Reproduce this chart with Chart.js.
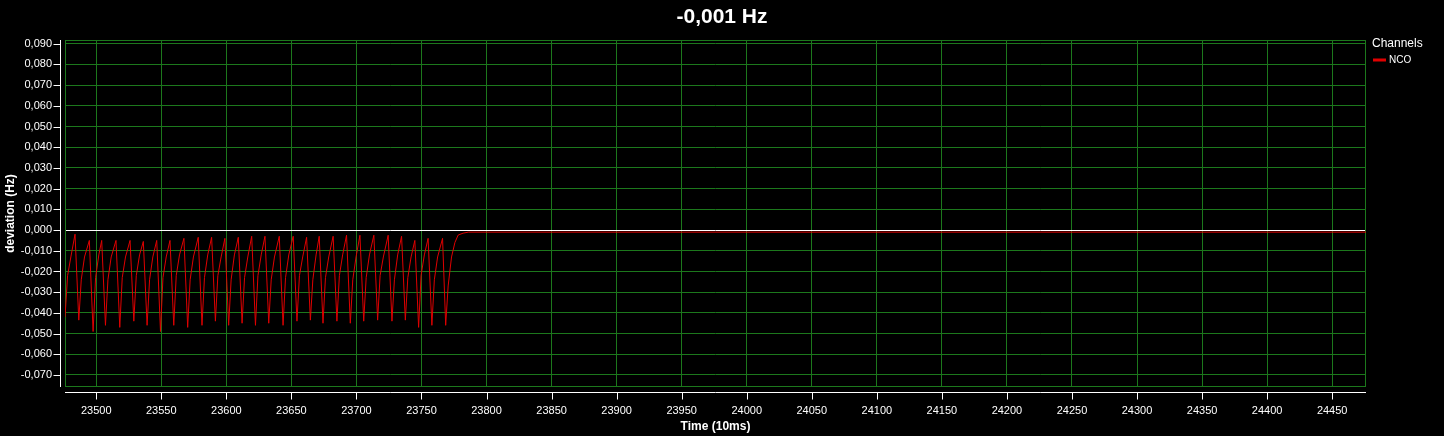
<!DOCTYPE html>
<html>
<head>
<meta charset="utf-8">
<script src="https://cdn.jsdelivr.net/npm/chart.js@4"></script>
<style>
  html, body { margin: 0; padding: 0; background: #000; }
  canvas { display: block; }
</style>
</head>
<body>
<canvas id="ncoChart" width="1444" height="436"></canvas>
<script>
// tijd in eenheden van 10 ms
const timeTicks = [23476, 23478, 23480.5,
  23483.7, 23486.6, 23488.5, 23491.0,
  23494.7, 23497.6, 23499.5, 23502.0,
  23504.2, 23507.1, 23509.0, 23511.5,
  23515.2, 23518.1, 23520.0, 23522.5,
  23526.0, 23528.9, 23530.8, 23533.3,
  23536.2, 23539.1, 23541.0, 23543.5,
  23546.5, 23549.4, 23551.3, 23553.8,
  23556.7, 23559.6, 23561.5, 23564.0,
  23567.4, 23570.3, 23572.2, 23574.7,
  23578.4, 23581.3, 23583.2, 23585.7,
  23588.7, 23591.6, 23593.5, 23596.0,
  23598.9, 23601.8, 23603.7, 23606.2,
  23609.2, 23612.1, 23614.0, 23616.5,
  23619.5, 23622.4, 23624.3, 23626.8,
  23629.7, 23632.6, 23634.5, 23637.0,
  23640.7, 23643.6, 23645.5, 23648.0,
  23651.4, 23654.3, 23656.2, 23658.7,
  23661.7, 23664.6, 23666.5, 23669.0,
  23671.4, 23674.3, 23676.2, 23678.7,
  23682.1, 23685.0, 23686.9, 23689.4,
  23692.4, 23695.3, 23697.2, 23699.7,
  23702.7, 23705.6, 23707.5, 23710.0,
  23713.4, 23716.3, 23718.2, 23720.7,
  23724.4, 23727.3, 23729.2, 23731.7,
  23734.7, 23737.6, 23739.5, 23742.0,
  23744.9, 23747.8, 23749.7, 23752.2,
  23755.1, 23758.0, 23759.9, 23762.4,
  23766.2, 23768.6, 23770.5, 23773.1, 23775.7, 23778.2, 23782, 23786, 24476];

// NCO afwijking in Hz
const ncoDeviation = [-0.042, -0.022, -0.013,
  -0.002, -0.0435, -0.024, -0.013,
  -0.005, -0.049, -0.023, -0.012,
  -0.005, -0.046, -0.024, -0.013,
  -0.005, -0.047, -0.023, -0.013,
  -0.005, -0.044, -0.022, -0.012,
  -0.0055, -0.046, -0.024, -0.013,
  -0.005, -0.049, -0.023, -0.013,
  -0.005, -0.046, -0.022, -0.012,
  -0.004, -0.047, -0.024, -0.013,
  -0.0035, -0.046, -0.023, -0.012,
  -0.0035, -0.044, -0.022, -0.013,
  -0.004, -0.046, -0.024, -0.012,
  -0.0035, -0.045, -0.023, -0.013,
  -0.003, -0.046, -0.022, -0.012,
  -0.003, -0.045, -0.024, -0.013,
  -0.003, -0.046, -0.023, -0.012,
  -0.003, -0.044, -0.022, -0.013,
  -0.0035, -0.0435, -0.024, -0.012,
  -0.003, -0.045, -0.023, -0.013,
  -0.003, -0.044, -0.022, -0.012,
  -0.0025, -0.045, -0.024, -0.013,
  -0.0025, -0.044, -0.023, -0.012,
  -0.0025, -0.0435, -0.022, -0.013,
  -0.0025, -0.044, -0.024, -0.012,
  -0.003, -0.0435, -0.023, -0.013,
  -0.005, -0.047, -0.022, -0.012,
  -0.004, -0.046, -0.024, -0.013,
  -0.004, -0.046, -0.027, -0.013, -0.006, -0.0024, -0.0015, -0.001, -0.001];

const timeRange = [23476, 24476];
const deviationRange = [-0.0758, 0.0918];
const timeStep = 50;
const deviationStep = 0.01;

const gridGreen = '#1c781c';
const labelFont = 'Arial, "Liberation Sans", sans-serif';

function formatHz(v) {
    if (Math.abs(v) < 1e-9) v = 0;
    return v.toFixed(3).replace('.', ',');
}

// alleen ronde veelvouden van de stap als tick, niet de grenzen zelf
function stepTicks(step, digits) {
    return scale => {
        const ticks = [];
        const first = Math.ceil(scale.min / step - 1e-9);
        for (let k = first; k * step <= scale.max + 1e-9; k++) {
            ticks.push({ value: Number((k * step).toFixed(digits)) });
        }
        scale.ticks = ticks;
    };
}

// zwarte achtergrond
const blackBackground = {
    id: 'blackBackground',
    beforeDraw(chart) {
        const ctx = chart.ctx;
        ctx.save();
        ctx.fillStyle = '#000';
        ctx.fillRect(0, 0, chart.width, chart.height);
        ctx.restore();
    }
};

// groene rand en witte assen iets naast het plotvlak
const plotFrame = {
    id: 'plotFrame',
    beforeDatasetsDraw(chart) {
        const { ctx, chartArea: a } = chart;
        ctx.save();
        ctx.strokeStyle = gridGreen;
        ctx.lineWidth = 1;
        ctx.strokeRect(a.left + 0.5, a.top + 0.5, a.right - a.left - 1, a.bottom - a.top - 1);
        ctx.restore();
    },
    afterDraw(chart) {
        const { ctx, chartArea: a, scales } = chart;
        ctx.save();
        ctx.strokeStyle = '#ffffff';
        ctx.lineWidth = 1;
        ctx.beginPath();
        const ax = a.left - 4.5;
        ctx.moveTo(ax, a.top);
        ctx.lineTo(ax, a.bottom);
        scales.y.ticks.forEach(t => {
            const py = Math.round(scales.y.getPixelForValue(t.value)) + 0.5;
            ctx.moveTo(ax, py);
            ctx.lineTo(ax - 7, py);
        });
        const ay = a.bottom + 5.5;
        ctx.moveTo(a.left, ay);
        ctx.lineTo(a.right, ay);
        scales.x.ticks.forEach(t => {
            const px = Math.round(scales.x.getPixelForValue(t.value)) + 0.5;
            ctx.moveTo(px, ay);
            ctx.lineTo(px, ay + 7);
        });
        ctx.stroke();
        ctx.restore();
    }
};

// legenda rechts van het plotvlak
const channelLegend = {
    id: 'channelLegend',
    afterDraw(chart) {
        const { ctx, chartArea: a } = chart;
        ctx.save();
        ctx.fillStyle = '#ffffff';
        ctx.textBaseline = 'middle';
        ctx.textAlign = 'left';
        ctx.font = '12px ' + labelFont;
        ctx.fillText('Channels', a.right + 6, 44);
        chart.data.datasets.forEach((ds, i) => {
            const y = 60 + i * 14;
            ctx.strokeStyle = ds.borderColor;
            ctx.lineWidth = 3;
            ctx.beginPath();
            ctx.moveTo(a.right + 7, y);
            ctx.lineTo(a.right + 20, y);
            ctx.stroke();
            ctx.font = '10px ' + labelFont;
            ctx.fillText(ds.label, a.right + 23, y);
        });
        ctx.restore();
    }
};

new Chart(document.getElementById('ncoChart'), {
    type: 'line',
    data: {
        datasets: [{
            label: 'NCO',
            data: timeTicks.map((t, i) => ({ x: t, y: ncoDeviation[i] })),
            borderColor: '#e00000',
            borderWidth: 1,
            pointRadius: 0,
            tension: 0,
            fill: false
        }]
    },
    options: {
        responsive: false,
        animation: false,
        devicePixelRatio: 1,
        layout: { padding: 0 },
        plugins: {
            legend: { display: false },
            tooltip: { enabled: false },
            title: {
                display: true,
                text: '-0,001 Hz',
                color: '#ffffff',
                font: { family: labelFont, size: 21, weight: 'bold' },
                padding: { top: 5, bottom: 9.8 }
            }
        },
        scales: {
            x: {
                type: 'linear',
                min: timeRange[0],
                max: timeRange[1],
                afterBuildTicks: stepTicks(timeStep, 0),
                afterFit(scale) { scale.height = 49; },
                border: { display: false },
                grid: { color: gridGreen, tickColor: 'transparent', tickLength: 14 },
                ticks: {
                    autoSkip: false,
                    maxRotation: 0,
                    padding: 3,
                    color: '#ffffff',
                    font: { family: labelFont, size: 11 },
                    callback: v => String(v)
                },
                title: {
                    display: true,
                    text: 'Time (10ms)',
                    color: '#ffffff',
                    font: { family: labelFont, size: 12, weight: 'bold' },
                    padding: { top: 0, bottom: 2 }
                }
            },
            y: {
                min: deviationRange[0],
                max: deviationRange[1],
                afterBuildTicks: stepTicks(deviationStep, 3),
                afterFit(scale) { scale.width = 65; },
                border: { display: false },
                grid: {
                    color: c => (c.tick && Math.abs(c.tick.value) < 1e-9) ? '#ffffff' : gridGreen,
                    tickColor: 'transparent',
                    tickLength: 11
                },
                ticks: {
                    autoSkip: false,
                    padding: 2,
                    color: '#ffffff',
                    font: { family: labelFont, size: 11 },
                    callback: v => formatHz(v)
                },
                title: {
                    display: true,
                    text: 'deviation (Hz)',
                    color: '#ffffff',
                    font: { family: labelFont, size: 12, weight: 'bold' },
                    padding: { top: 3, bottom: 0 }
                }
            },
            // ruimte voor de legenda rechts
            legendSpace: {
                type: 'linear',
                position: 'right',
                afterFit(scale) { scale.width = 78; },
                border: { display: false },
                grid: { drawOnChartArea: false, drawTicks: false },
                ticks: { display: false }
            }
        }
    },
    plugins: [blackBackground, plotFrame, channelLegend]
});
</script>
</body>
</html>
